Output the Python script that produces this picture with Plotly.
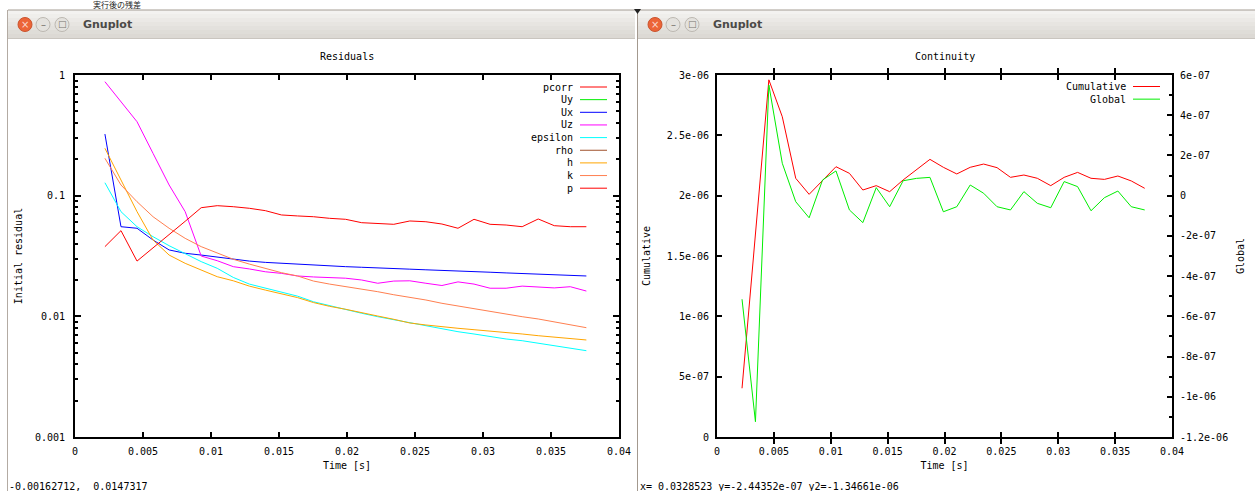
import plotly.graph_objects as go

W, H = 1255, 491

# ---------------- data ----------------
time_s = [0.00220, 0.00338, 0.00456, 0.00574, 0.00692, 0.00810, 0.00928, 0.01046,
          0.01164, 0.01282, 0.01400, 0.01518, 0.01636, 0.01754, 0.01872, 0.01990,
          0.02108, 0.02226, 0.02344, 0.02462, 0.02580, 0.02698, 0.02816, 0.02934,
          0.03052, 0.03170, 0.03288, 0.03406, 0.03524, 0.03642, 0.03760]

res_Ux = [0.324, 0.0553, 0.0537, 0.0429, 0.0355, 0.0333, 0.0322, 0.0309, 0.0297, 0.0287,
          0.0280, 0.0275, 0.0270, 0.0265, 0.0262, 0.0258, 0.0255, 0.0253, 0.0249, 0.0246,
          0.0243, 0.0241, 0.0238, 0.0235, 0.0232, 0.0229, 0.0226, 0.0224, 0.0221, 0.0218,
          0.0216]
res_Uz = [0.880, 0.601, 0.410, 0.224, 0.1226, 0.0737, 0.0316, 0.0289, 0.0258, 0.0247,
          0.0234, 0.0227, 0.0216, 0.0212, 0.0209, 0.0207, 0.0200, 0.0188, 0.0196, 0.0197,
          0.0188, 0.0180, 0.0193, 0.0185, 0.0171, 0.0171, 0.0178, 0.0174, 0.0172, 0.0176,
          0.0162]
res_epsilon = [0.128, 0.0737, 0.0553, 0.0457, 0.0385, 0.0333, 0.0284, 0.0250, 0.0210, 0.0185,
               0.0171, 0.0158, 0.0147, 0.0132, 0.01225, 0.01135, 0.0106, 0.00993, 0.00938, 0.00886,
               0.00837, 0.00786, 0.00746, 0.00714, 0.00678, 0.00649, 0.00628, 0.00598, 0.00571, 0.00543,
               0.00519]
res_h = [0.247, 0.135, 0.0737, 0.0429, 0.0322, 0.0275, 0.0242, 0.0213, 0.0197, 0.0178,
         0.0165, 0.0153, 0.0143, 0.0130, 0.0121, 0.01144, 0.0108, 0.01006, 0.00945, 0.00881,
         0.00848, 0.00816, 0.00796, 0.00775, 0.00756, 0.00732, 0.00714, 0.00691, 0.00674, 0.00658,
         0.00637]
res_k = [0.204, 0.1226, 0.0891, 0.0669, 0.0537, 0.0443, 0.0378, 0.0333, 0.0297, 0.0271,
         0.0250, 0.0230, 0.0216, 0.0196, 0.0185, 0.0177, 0.0169, 0.0160, 0.0151, 0.0144,
         0.01366, 0.01282, 0.01218, 0.01144, 0.01093, 0.01045, 0.00993, 0.00951, 0.00903, 0.00859,
         0.00805]
res_p = [0.0378, 0.0513, 0.0287, 0.0368, 0.0475, 0.0613, 0.0795, 0.0826, 0.0810, 0.0786,
         0.0751, 0.0692, 0.0679, 0.0669, 0.0649, 0.0637, 0.0597, 0.0590, 0.0579, 0.0617,
         0.0608, 0.0582, 0.0537, 0.0637, 0.0579, 0.0571, 0.0553, 0.0641, 0.0564, 0.0553,
         0.0553]

cont_cumulative = [4.04e-7, 1.68e-6, 2.96e-6, 2.654e-6, 2.144e-6, 2.011e-6, 2.124e-6, 2.24e-6,
                   2.185e-6, 2.047e-6, 2.083e-6, 2.033e-6, 2.13e-6, 2.213e-6, 2.301e-6, 2.235e-6,
                   2.18e-6, 2.235e-6, 2.262e-6, 2.232e-6, 2.152e-6, 2.171e-6, 2.144e-6, 2.083e-6,
                   2.152e-6, 2.193e-6, 2.144e-6, 2.135e-6, 2.163e-6, 2.122e-6, 2.061e-6]
cont_global = [-5.15e-7, -1.124e-6, 5.5e-7, 1.61e-7, -3.0e-8, -1.1e-7, 7.8e-8, 1.23e-7,
               -7.1e-8, -1.34e-7, 4e-8, -5.5e-8, 7.4e-8, 8.6e-8, 9.1e-8, -8e-8,
               -5.5e-8, 5.3e-8, 1.2e-8, -5.5e-8, -7.1e-8, 2e-8, -3.8e-8, -6e-8,
               7e-8, 4.5e-8, -7.5e-8, -1.0e-8, 2.3e-8, -5.5e-8, -7.1e-8]

res_names = ["pcorr", "Uy", "Ux", "Uz", "epsilon", "rho", "h", "k", "p"]
res_colors = ["#ff0000", "#00ee00", "#0000ff", "#ff00ff", "#00ffff", "#a0522d", "#ffa500", "#ff7f50", "#ff0000"]
cont_names = ["Cumulative", "Global"]
cont_colors = ["#ff0000", "#00ee00"]

x_ticks = [0, 0.005, 0.01, 0.015, 0.02, 0.025, 0.03, 0.035, 0.04]
x_tick_text = ["0", "0.005", "0.01", "0.015", "0.02", "0.025", "0.03", "0.035", "0.04"]
res_ticks = [0.001, 0.01, 0.1, 1]
res_tick_text = ["0.001", "0.01", "0.1", "1"]
res_minor = [0.002, 0.003, 0.004, 0.005, 0.006, 0.007, 0.008, 0.009,
             0.02, 0.03, 0.04, 0.05, 0.06, 0.07, 0.08, 0.09,
             0.2, 0.3, 0.4, 0.5, 0.6, 0.7, 0.8, 0.9]
cum_ticks = [0, 5e-7, 1e-6, 1.5e-6, 2e-6, 2.5e-6, 3e-6]
cum_tick_text = ["0", "5e-07", "1e-06", "1.5e-06", "2e-06", "2.5e-06", "3e-06"]
glob_ticks = [-1.2e-6, -1e-6, -8e-7, -6e-7, -4e-7, -2e-7, 0, 2e-7, 4e-7, 6e-7]
glob_tick_text = ["-1.2e-06", "-1e-06", "-8e-07", "-6e-07", "-4e-07", "-2e-07", "0", "2e-07", "4e-07", "6e-07"]
glob_minor = [-1.1e-6, -9e-7, -7e-7, -5e-7, -3e-7, -1e-7, 1e-7, 3e-7, 5e-7]

page_heading = "実行後の残差"
status_left = "-0.00162712,  0.0147317"
status_right = "x= 0.0328523 y=-2.44352e-07 y2=-1.34661e-06"

# ---------------- helpers (pixel -> paper) ----------------
def X(px):
    return px / W

def Y(py):
    return 1 - py / H

MONO = "DejaVu Sans Mono"
tfont = dict(family=MONO, size=10, color="black")

fig = go.Figure()

series = [(res_Ux, 2), (res_Uz, 3), (res_epsilon, 4), (res_h, 6), (res_k, 7), (res_p, 8)]
for vals, idx in series:
    fig.add_trace(go.Scatter(x=time_s, y=vals, mode="lines", name=res_names[idx],
                             line=dict(color=res_colors[idx], width=1),
                             xaxis="x", yaxis="y"))

fig.add_trace(go.Scatter(x=time_s, y=cont_cumulative, mode="lines", name=cont_names[0],
                         line=dict(color=cont_colors[0], width=1), xaxis="x2", yaxis="y2"))
fig.add_trace(go.Scatter(x=time_s, y=cont_global, mode="lines", name=cont_names[1],
                         line=dict(color=cont_colors[1], width=1), xaxis="x2", yaxis="y3"))

axis_common = dict(showline=True, linecolor="black", linewidth=2, ticks="inside",
                   tickcolor="black", tickwidth=2, showgrid=False, zeroline=False,
                   tickfont=tfont, automargin=False)

ydom = [Y(437), Y(75)]

fig.update_layout(
    width=W, height=H, autosize=False,
    margin=dict(l=0, r=0, t=0, b=0),
    paper_bgcolor="white", plot_bgcolor="rgba(0,0,0,0)",
    showlegend=False,
    xaxis=dict(axis_common, domain=[X(75), X(619)], anchor="y", range=[0, 0.04],
               tickmode="array", tickvals=x_ticks, ticktext=x_tick_text, ticklen=5,
               mirror="allticks", ticklabelstandoff=4,
               title=dict(text="Time [s]", font=tfont, standoff=6)),
    yaxis=dict(axis_common, domain=ydom, anchor="x", type="log", range=[-3, 0],
               tickmode="array", tickvals=res_ticks, ticktext=res_tick_text, ticklen=6,
               mirror="allticks", ticklabelstandoff=6,
               minor=dict(tickmode="array", tickvals=res_minor, ticklen=3, tickwidth=2,
                          tickcolor="black", ticks="inside"),
               title=dict(text="Initial residual", font=tfont, standoff=10)),
    xaxis2=dict(axis_common, domain=[X(717), X(1172)], anchor="y2", range=[0, 0.04],
                tickmode="array", tickvals=x_ticks, ticktext=x_tick_text, ticklen=5,
                mirror="allticks", ticklabelstandoff=4,
                title=dict(text="Time [s]", font=tfont, standoff=6)),
    yaxis2=dict(axis_common, domain=ydom, anchor="x2", range=[0, 3e-6],
                tickmode="array", tickvals=cum_ticks, ticktext=cum_tick_text, ticklen=5,
                ticklabelstandoff=4,
                title=dict(text="Cumulative", font=tfont, standoff=14)),
    yaxis3=dict(axis_common, domain=ydom, anchor="x2", overlaying="y2", side="right",
                range=[-1.2e-6, 6e-7],
                tickmode="array", tickvals=glob_ticks, ticktext=glob_tick_text, ticklen=5,
                ticklabelstandoff=4,
                minor=dict(tickmode="array", tickvals=glob_minor, ticklen=3, tickwidth=2,
                           tickcolor="black", ticks="inside"),
                title=dict(text="Global", font=tfont, standoff=10)),
)

shapes = []
annotations = []

def rect(x0, y0, x1, y1, fill, line=None):
    shapes.append(dict(type="rect", xref="paper", yref="paper", layer="below",
                       x0=X(x0), x1=X(x1), y0=Y(y1), y1=Y(y0),
                       fillcolor=fill, line=dict(width=0) if line is None else line))

def text(px, py, s, font, xanchor="left", yanchor="middle"):
    annotations.append(dict(xref="paper", yref="paper", x=X(px), y=Y(py), text=s,
                            showarrow=False, xanchor=xanchor, yanchor=yanchor,
                            font=font, borderpad=0))

# window chrome: title bars with a gradient made of bands
band_colors = ["#f3f2f0", "#efeeeb", "#ebe9e6", "#e7e5e1", "#e3e1dd", "#dfddd8", "#dcd9d4"]
for left, right in [(8, 635), (638, 1255)]:
    for i, c in enumerate(band_colors):
        rect(left, 10 + 4 * i, right, 14 + 4 * i, c)
    shapes.append(dict(type="line", xref="paper", yref="paper", x0=X(left), x1=X(right),
                       y0=Y(38.5), y1=Y(38.5), line=dict(color="#c9c5bf", width=1)))
    shapes.append(dict(type="line", xref="paper", yref="paper", x0=X(left), x1=X(right),
                       y0=Y(10), y1=Y(10), line=dict(color="#a49c93", width=1)))
    # buttons
    cx = left + 17
    shapes.append(dict(type="circle", xref="paper", yref="paper",
                       x0=X(cx - 7), x1=X(cx + 7), y0=Y(31.5), y1=Y(17.5),
                       fillcolor="#ec6437", line=dict(color="#c9542f", width=1)))
    for off in (18, 37):
        shapes.append(dict(type="circle", xref="paper", yref="paper",
                           x0=X(cx + off - 7), x1=X(cx + off + 7), y0=Y(31.5), y1=Y(17.5),
                           fillcolor="#e4e2de", line=dict(color="#bcb8b1", width=1)))
    text(cx, 24.5, "×", dict(family="DejaVu Sans", size=10, color="#fbd9cc"), "center")
    text(cx + 18, 24.5, "–", dict(family="DejaVu Sans", size=10, color="#77736d"), "center")
    text(cx + 37, 24.5, "□", dict(family="DejaVu Sans", size=9, color="#77736d"), "center")
    text(left + 74, 24.5, "<b>Gnuplot</b>", dict(family="DejaVu Sans", size=11, color="#4b4a47"), "left")

# window borders
shapes.append(dict(type="line", xref="paper", yref="paper", x0=X(7.5), x1=X(7.5),
                   y0=Y(491), y1=Y(10), line=dict(color="#b3aba3", width=1)))
shapes.append(dict(type="line", xref="paper", yref="paper", x0=X(637.5), x1=X(637.5),
                   y0=Y(491), y1=Y(10), line=dict(color="#a3998f", width=1)))
shapes.append(dict(type="path", xref="paper", yref="paper",
                   path=f"M {X(634)} {Y(9)} L {X(641)} {Y(9)} L {X(637.5)} {Y(14)} Z",
                   fillcolor="#222222", line=dict(width=0)))

# page heading (the reference shows it clipped at the top; kept fully visible here)
text(92, 4.5, page_heading, dict(family="Noto Sans CJK JP", size=8, color="#222222"), "left")

# plot titles
text(347, 57, "Residuals", tfont, "center")
text(944.5, 57, "Continuity", tfont, "center")

# gnuplot-style keys (text, then the line sample on its right)
for k, (name, color) in enumerate(zip(res_names, res_colors)):
    ry = 87 + 12.65 * k
    text(574, ry, name, tfont, "right")
    shapes.append(dict(type="line", xref="paper", yref="paper", x0=X(580), x1=X(607),
                       y0=Y(ry), y1=Y(ry), line=dict(color=color, width=1)))
for k, (name, color) in enumerate(zip(cont_names, cont_colors)):
    ry = 86.5 + 12.65 * k
    text(1127, ry, name, tfont, "right")
    shapes.append(dict(type="line", xref="paper", yref="paper", x0=X(1133), x1=X(1160),
                       y0=Y(ry), y1=Y(ry), line=dict(color=color, width=1)))

# status lines
text(8, 486, status_left, tfont, "left")
text(639, 486, status_right, tfont, "left")

fig.update_layout(shapes=shapes, annotations=annotations)

fig.write_html("out.html", config={"displayModeBar": False},
               post_script="document.body.style.margin='0';document.body.style.overflow='hidden';")
